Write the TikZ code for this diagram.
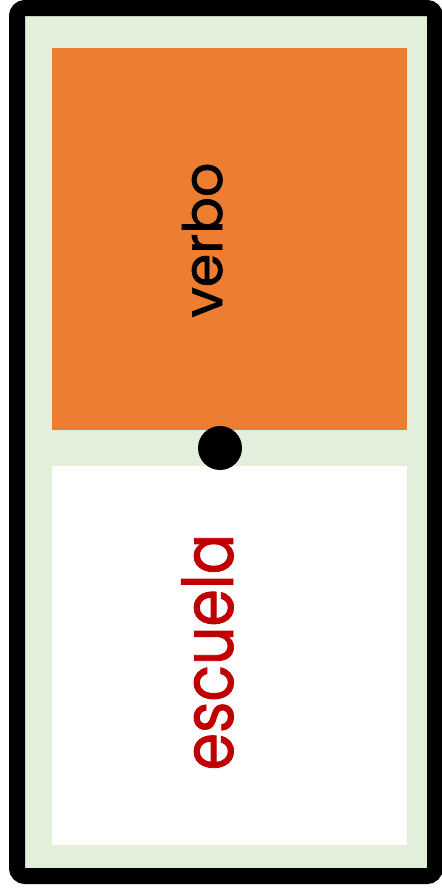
\documentclass[tikz,border=0pt]{standalone}
\usepackage{fontspec}
\setmainfont{Poppins}
\newfontfamily\letra{Poppins}[FakeBold=1.2]
\newfontfamily\letraestrecha{Poppins}[FakeBold=1.2, FakeStretch=0.86]
\usepackage{tikz}
\definecolor{marco}{HTML}{E2EFDA}
\definecolor{naranja}{HTML}{ED7D31}
\definecolor{rojo}{HTML}{C00000}
\begin{document}
\begin{tikzpicture}[x=1pt,y=-1pt]
	\tikzstyle{caja} = [draw=none, inner sep=0pt, minimum width=355pt]
	\tikzstyle{palabra} = [rotate=90, anchor=base, inner sep=0pt]
	\useasboundingbox (0,0) rectangle (442,895);
	
	\draw[line width=16pt, rounded corners=8pt, fill=marco] (17,8) rectangle (435,876);
	
	\node[caja, fill=naranja, minimum height=382pt] (arriba) at (229.5,239) {};
	\node[caja, fill=white, minimum height=379pt] (abajo) at (229.5,655.5) {};
	\node[circle, fill=black, inner sep=0pt, minimum size=44pt] (punto) at (220,448) {};
	
	\node[palabra, font=\letra\fontsize{54}{54}\selectfont] (verbo) at (222,240) {verbo};
	\node[palabra, font=\letraestrecha\fontsize{70}{70}\selectfont, text=rojo] (escuela) at (233,652) {escuela};
\end{tikzpicture}
\end{document}
